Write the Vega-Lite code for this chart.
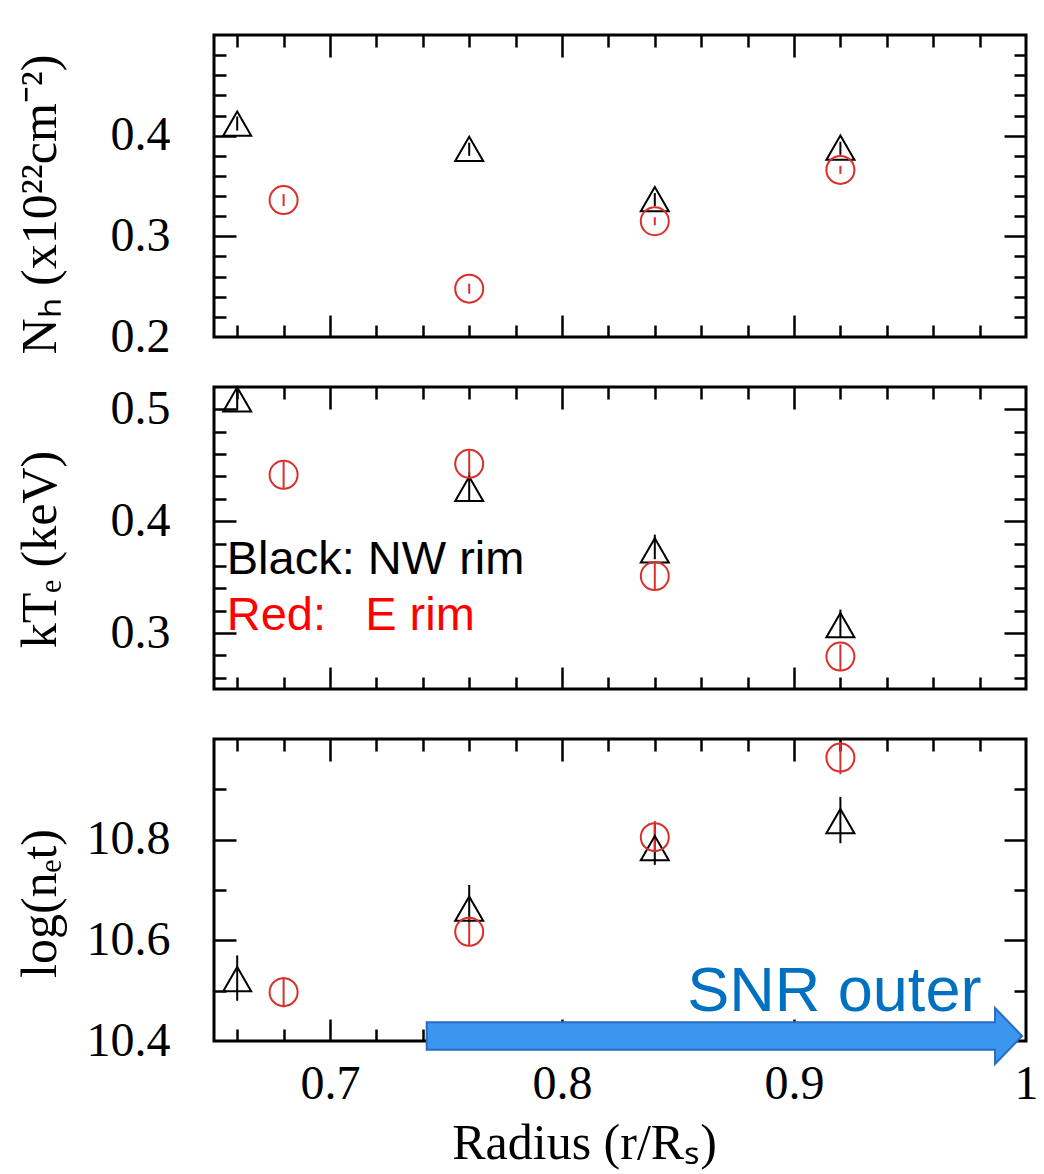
{
  "$schema": "https://vega.github.io/schema/vega-lite/v6.json",
  "background": "white",
  "padding": {"left": 13, "top": 32, "right": 0, "bottom": 0},
  "spacing": 50,
  "bounds": "flush",
  "datasets": {
    "pts": [
      {"panel": 1, "rim": "NW", "r": 0.66, "v": 0.412, "lo": 0.405, "hi": 0.419},
      {"panel": 1, "rim": "NW", "r": 0.76, "v": 0.387, "lo": 0.380, "hi": 0.393},
      {"panel": 1, "rim": "NW", "r": 0.84, "v": 0.337, "lo": 0.330, "hi": 0.343},
      {"panel": 1, "rim": "NW", "r": 0.92, "v": 0.388, "lo": 0.381, "hi": 0.394},
      {"panel": 1, "rim": "E", "r": 0.68, "v": 0.336, "lo": 0.330, "hi": 0.342},
      {"panel": 1, "rim": "E", "r": 0.76, "v": 0.248, "lo": 0.243, "hi": 0.253},
      {"panel": 1, "rim": "E", "r": 0.84, "v": 0.315, "lo": 0.311, "hi": 0.319},
      {"panel": 1, "rim": "E", "r": 0.92, "v": 0.366, "lo": 0.362, "hi": 0.370},
      {"panel": 2, "rim": "NW", "r": 0.66, "v": 0.509, "lo": 0.499, "hi": 0.521},
      {"panel": 2, "rim": "NW", "r": 0.76, "v": 0.429, "lo": 0.419, "hi": 0.444},
      {"panel": 2, "rim": "NW", "r": 0.84, "v": 0.374, "lo": 0.366, "hi": 0.388},
      {"panel": 2, "rim": "NW", "r": 0.92, "v": 0.307, "lo": 0.296, "hi": 0.321},
      {"panel": 2, "rim": "E", "r": 0.68, "v": 0.4415, "lo": 0.429, "hi": 0.454},
      {"panel": 2, "rim": "E", "r": 0.76, "v": 0.4513, "lo": 0.438, "hi": 0.463},
      {"panel": 2, "rim": "E", "r": 0.84, "v": 0.351, "lo": 0.338, "hi": 0.362},
      {"panel": 2, "rim": "E", "r": 0.92, "v": 0.279, "lo": 0.266, "hi": 0.290},
      {"panel": 3, "rim": "NW", "r": 0.66, "v": 10.523, "lo": 10.48, "hi": 10.57},
      {"panel": 3, "rim": "NW", "r": 0.76, "v": 10.663, "lo": 10.635, "hi": 10.71},
      {"panel": 3, "rim": "NW", "r": 0.84, "v": 10.783, "lo": 10.75, "hi": 10.833},
      {"panel": 3, "rim": "NW", "r": 0.92, "v": 10.837, "lo": 10.793, "hi": 10.885},
      {"panel": 3, "rim": "E", "r": 0.68, "v": 10.497, "lo": 10.467, "hi": 10.527},
      {"panel": 3, "rim": "E", "r": 0.76, "v": 10.617, "lo": 10.59, "hi": 10.647},
      {"panel": 3, "rim": "E", "r": 0.84, "v": 10.805, "lo": 10.777, "hi": 10.837},
      {"panel": 3, "rim": "E", "r": 0.92, "v": 10.963, "lo": 10.93, "hi": 10.993}
    ],
    "notes": [
      {"rim": "NW", "label": "Black: NW rim", "r": 0.6555, "v": 0.3531},
      {"rim": "E", "label": "Red:\u00a0\u00a0\u00a0E rim", "r": 0.6555, "v": 0.3027}
    ],
    "snr": [
      {"label": "SNR outer", "r": 0.854, "v": 10.4596}
    ],
    "arrow": [
      {"r": 0.87, "v": 10.41}
    ]
  },
  "vconcat": [
    {
      "width": 812, "height": 302,
      "resolve": {"axis": {"x": "independent", "y": "independent"}},
      "layer": [
        {
          "data": {"name": "pts"}, "transform": [{"filter": "datum.panel == 1"}],
          "mark": {"type": "rule", "strokeWidth": 2},
          "encoding": {
            "x": {"field": "r", "type": "quantitative", "scale": {"domain": [0.65, 1.0], "nice": false, "zero": false},
                  "axis": {"orient": "bottom", "values": [0.7, 0.8, 0.9], "labels": false, "tickSize": -22, "title": null}},
            "y": {"field": "lo", "type": "quantitative", "scale": {"domain": [0.2, 0.5], "nice": false, "zero": false},
                  "axis": {"orient": "left", "values": [0.2, 0.3, 0.4], "format": ".1f", "ticks": false, "labelFontSize": 48, "labelPadding": 44,
                           "title": "Nₕ (x10²²cm⁻²)", "titleFontSize": 50, "titleX": -159, "titleY": 169, "titleAngle": 270, "titleBaseline": "alphabetic", "titleAlign": "center"}},
            "y2": {"field": "hi"},
            "color": {"field": "rim", "type": "nominal", "scale": {"domain": ["NW", "E"], "range": ["black", "#d9302c"]}, "legend": null}
          }
        },
        {
          "data": {"name": "pts"}, "transform": [{"filter": "datum.panel == 1 && datum.rim == 'NW'"}],
          "mark": {"type": "point", "shape": "triangle-up", "filled": false, "color": "black", "strokeWidth": 2, "size": 784, "opacity": 1},
          "encoding": {
            "x": {"field": "r", "type": "quantitative", "scale": {"domain": [0.65, 1.0], "nice": false, "zero": false},
                  "axis": {"orient": "bottom", "values": [0.66, 0.68, 0.72, 0.74, 0.76, 0.78, 0.82, 0.84, 0.86, 0.88, 0.92, 0.94, 0.96, 0.98], "labels": false, "tickSize": -12, "title": null}},
            "y": {"field": "v", "type": "quantitative", "scale": {"domain": [0.2, 0.5], "nice": false, "zero": false},
                  "axis": {"orient": "left", "values": [0.3, 0.4], "labels": false, "tickSize": -22, "title": null}}
          }
        },
        {
          "data": {"name": "pts"}, "transform": [{"filter": "datum.panel == 1 && datum.rim == 'E'"}],
          "mark": {"type": "point", "shape": "circle", "filled": false, "color": "#d9302c", "strokeWidth": 2, "size": 784, "opacity": 1},
          "encoding": {
            "x": {"field": "r", "type": "quantitative", "scale": {"domain": [0.65, 1.0], "nice": false, "zero": false},
                  "axis": {"orient": "top", "values": [0.7, 0.8, 0.9], "labels": false, "tickSize": -22, "title": null}},
            "y": {"field": "v", "type": "quantitative", "scale": {"domain": [0.2, 0.5], "nice": false, "zero": false},
                  "axis": {"orient": "left", "values": [0.22, 0.24, 0.26, 0.28, 0.32, 0.34, 0.36, 0.38, 0.42, 0.44, 0.46, 0.48], "labels": false, "tickSize": -12, "title": null}}
          }
        },
        {
          "data": {"name": "pts"}, "transform": [{"filter": "datum.panel == 1"}],
          "mark": {"type": "point", "opacity": 0},
          "encoding": {
            "x": {"field": "r", "type": "quantitative", "scale": {"domain": [0.65, 1.0], "nice": false, "zero": false},
                  "axis": {"orient": "top", "values": [0.66, 0.68, 0.72, 0.74, 0.76, 0.78, 0.82, 0.84, 0.86, 0.88, 0.92, 0.94, 0.96, 0.98], "labels": false, "tickSize": -12, "title": null}},
            "y": {"field": "v", "type": "quantitative", "scale": {"domain": [0.2, 0.5], "nice": false, "zero": false},
                  "axis": {"orient": "right", "values": [0.3, 0.4], "labels": false, "tickSize": -22, "title": null}}
          }
        },
        {
          "data": {"name": "pts"}, "transform": [{"filter": "datum.panel == 1"}],
          "mark": {"type": "point", "opacity": 0},
          "encoding": {
            "x": {"field": "r", "type": "quantitative", "scale": {"domain": [0.65, 1.0], "nice": false, "zero": false}, "axis": null},
            "y": {"field": "v", "type": "quantitative", "scale": {"domain": [0.2, 0.5], "nice": false, "zero": false},
                  "axis": {"orient": "right", "values": [0.22, 0.24, 0.26, 0.28, 0.32, 0.34, 0.36, 0.38, 0.42, 0.44, 0.46, 0.48], "labels": false, "tickSize": -12, "title": null}}
          }
        }
      ]
    },
    {
      "width": 812, "height": 302,
      "resolve": {"axis": {"x": "independent", "y": "independent"}},
      "layer": [
        {
          "data": {"name": "pts"}, "transform": [{"filter": "datum.panel == 2"}],
          "mark": {"type": "rule", "strokeWidth": 2},
          "encoding": {
            "x": {"field": "r", "type": "quantitative", "scale": {"domain": [0.65, 1.0], "nice": false, "zero": false},
                  "axis": {"orient": "bottom", "values": [0.7, 0.8, 0.9], "labels": false, "tickSize": -22, "title": null}},
            "y": {"field": "lo", "type": "quantitative", "scale": {"domain": [0.25, 0.52], "nice": false, "zero": false},
                  "axis": {"orient": "left", "values": [0.3, 0.4, 0.5], "format": ".1f", "ticks": false, "labelFontSize": 48, "labelPadding": 44,
                           "title": "kTₑ (keV)", "titleFontSize": 50, "titleX": -159, "titleY": 162, "titleAngle": 270, "titleBaseline": "alphabetic", "titleAlign": "center"}},
            "y2": {"field": "hi"},
            "color": {"field": "rim", "type": "nominal", "scale": {"domain": ["NW", "E"], "range": ["black", "#d9302c"]}, "legend": null}
          }
        },
        {
          "data": {"name": "pts"}, "transform": [{"filter": "datum.panel == 2 && datum.rim == 'NW'"}],
          "mark": {"type": "point", "shape": "triangle-up", "filled": false, "color": "black", "strokeWidth": 2, "size": 784, "opacity": 1},
          "encoding": {
            "x": {"field": "r", "type": "quantitative", "scale": {"domain": [0.65, 1.0], "nice": false, "zero": false},
                  "axis": {"orient": "bottom", "values": [0.66, 0.68, 0.72, 0.74, 0.76, 0.78, 0.82, 0.84, 0.86, 0.88, 0.92, 0.94, 0.96, 0.98], "labels": false, "tickSize": -12, "title": null}},
            "y": {"field": "v", "type": "quantitative", "scale": {"domain": [0.25, 0.52], "nice": false, "zero": false},
                  "axis": {"orient": "left", "values": [0.3, 0.4, 0.5], "labels": false, "tickSize": -22, "title": null}}
          }
        },
        {
          "data": {"name": "pts"}, "transform": [{"filter": "datum.panel == 2 && datum.rim == 'E'"}],
          "mark": {"type": "point", "shape": "circle", "filled": false, "color": "#d9302c", "strokeWidth": 2, "size": 784, "opacity": 1},
          "encoding": {
            "x": {"field": "r", "type": "quantitative", "scale": {"domain": [0.65, 1.0], "nice": false, "zero": false},
                  "axis": {"orient": "top", "values": [0.7, 0.8, 0.9], "labels": false, "tickSize": -22, "title": null}},
            "y": {"field": "v", "type": "quantitative", "scale": {"domain": [0.25, 0.52], "nice": false, "zero": false},
                  "axis": {"orient": "left", "values": [0.26, 0.28, 0.32, 0.34, 0.36, 0.38, 0.42, 0.44, 0.46, 0.48], "labels": false, "tickSize": -12, "title": null}}
          }
        },
        {
          "data": {"name": "pts"}, "transform": [{"filter": "datum.panel == 2"}],
          "mark": {"type": "point", "opacity": 0},
          "encoding": {
            "x": {"field": "r", "type": "quantitative", "scale": {"domain": [0.65, 1.0], "nice": false, "zero": false},
                  "axis": {"orient": "top", "values": [0.66, 0.68, 0.72, 0.74, 0.76, 0.78, 0.82, 0.84, 0.86, 0.88, 0.92, 0.94, 0.96, 0.98], "labels": false, "tickSize": -12, "title": null}},
            "y": {"field": "v", "type": "quantitative", "scale": {"domain": [0.25, 0.52], "nice": false, "zero": false},
                  "axis": {"orient": "right", "values": [0.3, 0.4, 0.5], "labels": false, "tickSize": -22, "title": null}}
          }
        },
        {
          "data": {"name": "pts"}, "transform": [{"filter": "datum.panel == 2"}],
          "mark": {"type": "point", "opacity": 0},
          "encoding": {
            "x": {"field": "r", "type": "quantitative", "scale": {"domain": [0.65, 1.0], "nice": false, "zero": false}, "axis": null},
            "y": {"field": "v", "type": "quantitative", "scale": {"domain": [0.25, 0.52], "nice": false, "zero": false},
                  "axis": {"orient": "right", "values": [0.26, 0.28, 0.32, 0.34, 0.36, 0.38, 0.42, 0.44, 0.46, 0.48], "labels": false, "tickSize": -12, "title": null}}
          }
        },
        {
          "data": {"name": "notes"}, "transform": [{"filter": "datum.rim == 'NW'"}],
          "mark": {"type": "text", "font": "Liberation Sans", "fontSize": 47, "align": "left", "baseline": "alphabetic", "color": "black"},
          "encoding": {
            "x": {"field": "r", "type": "quantitative", "scale": {"domain": [0.65, 1.0], "nice": false, "zero": false}, "axis": null},
            "y": {"field": "v", "type": "quantitative", "scale": {"domain": [0.25, 0.52], "nice": false, "zero": false}, "axis": null},
            "text": {"field": "label"}
          }
        },
        {
          "data": {"name": "notes"}, "transform": [{"filter": "datum.rim == 'E'"}],
          "mark": {"type": "text", "font": "Liberation Sans", "fontSize": 47, "align": "left", "baseline": "alphabetic", "color": "#ff0000"},
          "encoding": {
            "x": {"field": "r", "type": "quantitative", "scale": {"domain": [0.65, 1.0], "nice": false, "zero": false}, "axis": null},
            "y": {"field": "v", "type": "quantitative", "scale": {"domain": [0.25, 0.52], "nice": false, "zero": false}, "axis": null},
            "text": {"field": "label"}
          }
        }
      ]
    },
    {
      "width": 812, "height": 302,
      "resolve": {"axis": {"x": "independent", "y": "independent"}},
      "layer": [
        {
          "data": {"name": "pts"}, "transform": [{"filter": "datum.panel == 3"}],
          "mark": {"type": "rule", "strokeWidth": 2},
          "encoding": {
            "x": {"field": "r", "type": "quantitative", "scale": {"domain": [0.65, 1.0], "nice": false, "zero": false},
                  "axis": {"orient": "bottom", "values": [0.7, 0.8, 0.9], "labels": false, "tickSize": -22, "title": null}},
            "y": {"field": "lo", "type": "quantitative", "scale": {"domain": [10.4, 11.0], "nice": false, "zero": false},
                  "axis": {"orient": "left", "values": [10.4, 10.6, 10.8], "format": ".1f", "ticks": false, "labelFontSize": 48, "labelPadding": 44,
                           "title": "log(nₑt)", "titleFontSize": 50, "titleX": -159, "titleY": 164, "titleAngle": 270, "titleBaseline": "alphabetic", "titleAlign": "center"}},
            "y2": {"field": "hi"},
            "color": {"field": "rim", "type": "nominal", "scale": {"domain": ["NW", "E"], "range": ["black", "#d9302c"]}, "legend": null}
          }
        },
        {
          "data": {"name": "pts"}, "transform": [{"filter": "datum.panel == 3 && datum.rim == 'NW'"}],
          "mark": {"type": "point", "shape": "triangle-up", "filled": false, "color": "black", "strokeWidth": 2, "size": 784, "opacity": 1},
          "encoding": {
            "x": {"field": "r", "type": "quantitative", "scale": {"domain": [0.65, 1.0], "nice": false, "zero": false},
                  "axis": {"orient": "bottom", "values": [0.66, 0.68, 0.72, 0.74, 0.76, 0.78, 0.82, 0.84, 0.86, 0.88, 0.92, 0.94, 0.96, 0.98], "labels": false, "tickSize": -12, "title": null}},
            "y": {"field": "v", "type": "quantitative", "scale": {"domain": [10.4, 11.0], "nice": false, "zero": false},
                  "axis": {"orient": "left", "values": [10.6, 10.8], "labels": false, "tickSize": -22, "title": null}}
          }
        },
        {
          "data": {"name": "pts"}, "transform": [{"filter": "datum.panel == 3 && datum.rim == 'E'"}],
          "mark": {"type": "point", "shape": "circle", "filled": false, "color": "#d9302c", "strokeWidth": 2, "size": 784, "opacity": 1},
          "encoding": {
            "x": {"field": "r", "type": "quantitative", "scale": {"domain": [0.65, 1.0], "nice": false, "zero": false},
                  "axis": {"orient": "top", "values": [0.7, 0.8, 0.9], "labels": false, "tickSize": -22, "title": null}},
            "y": {"field": "v", "type": "quantitative", "scale": {"domain": [10.4, 11.0], "nice": false, "zero": false},
                  "axis": {"orient": "left", "values": [10.5, 10.7, 10.9], "labels": false, "tickSize": -12, "title": null}}
          }
        },
        {
          "data": {"name": "pts"}, "transform": [{"filter": "datum.panel == 3"}],
          "mark": {"type": "point", "opacity": 0},
          "encoding": {
            "x": {"field": "r", "type": "quantitative", "scale": {"domain": [0.65, 1.0], "nice": false, "zero": false},
                  "axis": {"orient": "top", "values": [0.66, 0.68, 0.72, 0.74, 0.76, 0.78, 0.82, 0.84, 0.86, 0.88, 0.92, 0.94, 0.96, 0.98], "labels": false, "tickSize": -12, "title": null}},
            "y": {"field": "v", "type": "quantitative", "scale": {"domain": [10.4, 11.0], "nice": false, "zero": false},
                  "axis": {"orient": "right", "values": [10.6, 10.8], "labels": false, "tickSize": -22, "title": null}}
          }
        },
        {
          "data": {"name": "pts"}, "transform": [{"filter": "datum.panel == 3"}],
          "mark": {"type": "point", "opacity": 0},
          "encoding": {
            "x": {"field": "r", "type": "quantitative", "scale": {"domain": [0.65, 1.0], "nice": false, "zero": false},
                  "axis": {"orient": "bottom", "values": [0.7, 0.8, 0.9, 1.0], "format": "~g", "ticks": false, "labelFontSize": 48, "labelPadding": 57, "labelBaseline": "alphabetic", "labelFlush": false,
                           "title": "Radius (r/Rₛ)", "titleFontSize": 50, "titleX": 370, "titleY": 117, "titleBaseline": "alphabetic", "titleAlign": "center"}},
            "y": {"field": "v", "type": "quantitative", "scale": {"domain": [10.4, 11.0], "nice": false, "zero": false},
                  "axis": {"orient": "right", "values": [10.5, 10.7, 10.9], "labels": false, "tickSize": -12, "title": null}}
          }
        },
        {
          "data": {"name": "arrow"},
          "mark": {"type": "point", "shape": "M-1,-0.046L0.909,-0.046L0.909,-0.094L1,0L0.909,0.094L0.909,0.046L-1,0.046Z", "filled": true, "fill": "#3a96ee", "stroke": "#2a6cc0", "strokeWidth": 2, "size": 354500, "opacity": 1},
          "encoding": {
            "x": {"field": "r", "type": "quantitative", "scale": {"domain": [0.65, 1.0], "nice": false, "zero": false}, "axis": null},
            "y": {"field": "v", "type": "quantitative", "scale": {"domain": [10.4, 11.0], "nice": false, "zero": false}, "axis": null}
          }
        },
        {
          "data": {"name": "snr"},
          "mark": {"type": "text", "font": "Liberation Sans", "fontSize": 63, "align": "left", "baseline": "alphabetic", "color": "#0070c0"},
          "encoding": {
            "x": {"field": "r", "type": "quantitative", "scale": {"domain": [0.65, 1.0], "nice": false, "zero": false}, "axis": null},
            "y": {"field": "v", "type": "quantitative", "scale": {"domain": [10.4, 11.0], "nice": false, "zero": false}, "axis": null},
            "text": {"field": "label"}
          }
        }
      ]
    }
  ],
  "config": {
    "view": {"stroke": "black", "strokeWidth": 3},
    "axis": {
      "labelFont": "Liberation Serif", "titleFont": "Liberation Serif",
      "labelColor": "black", "titleColor": "black", "titleFontWeight": "normal",
      "tickColor": "black", "tickWidth": 2.5, "domain": false, "grid": false,
      "labelOverlap": false
    }
  }
}
